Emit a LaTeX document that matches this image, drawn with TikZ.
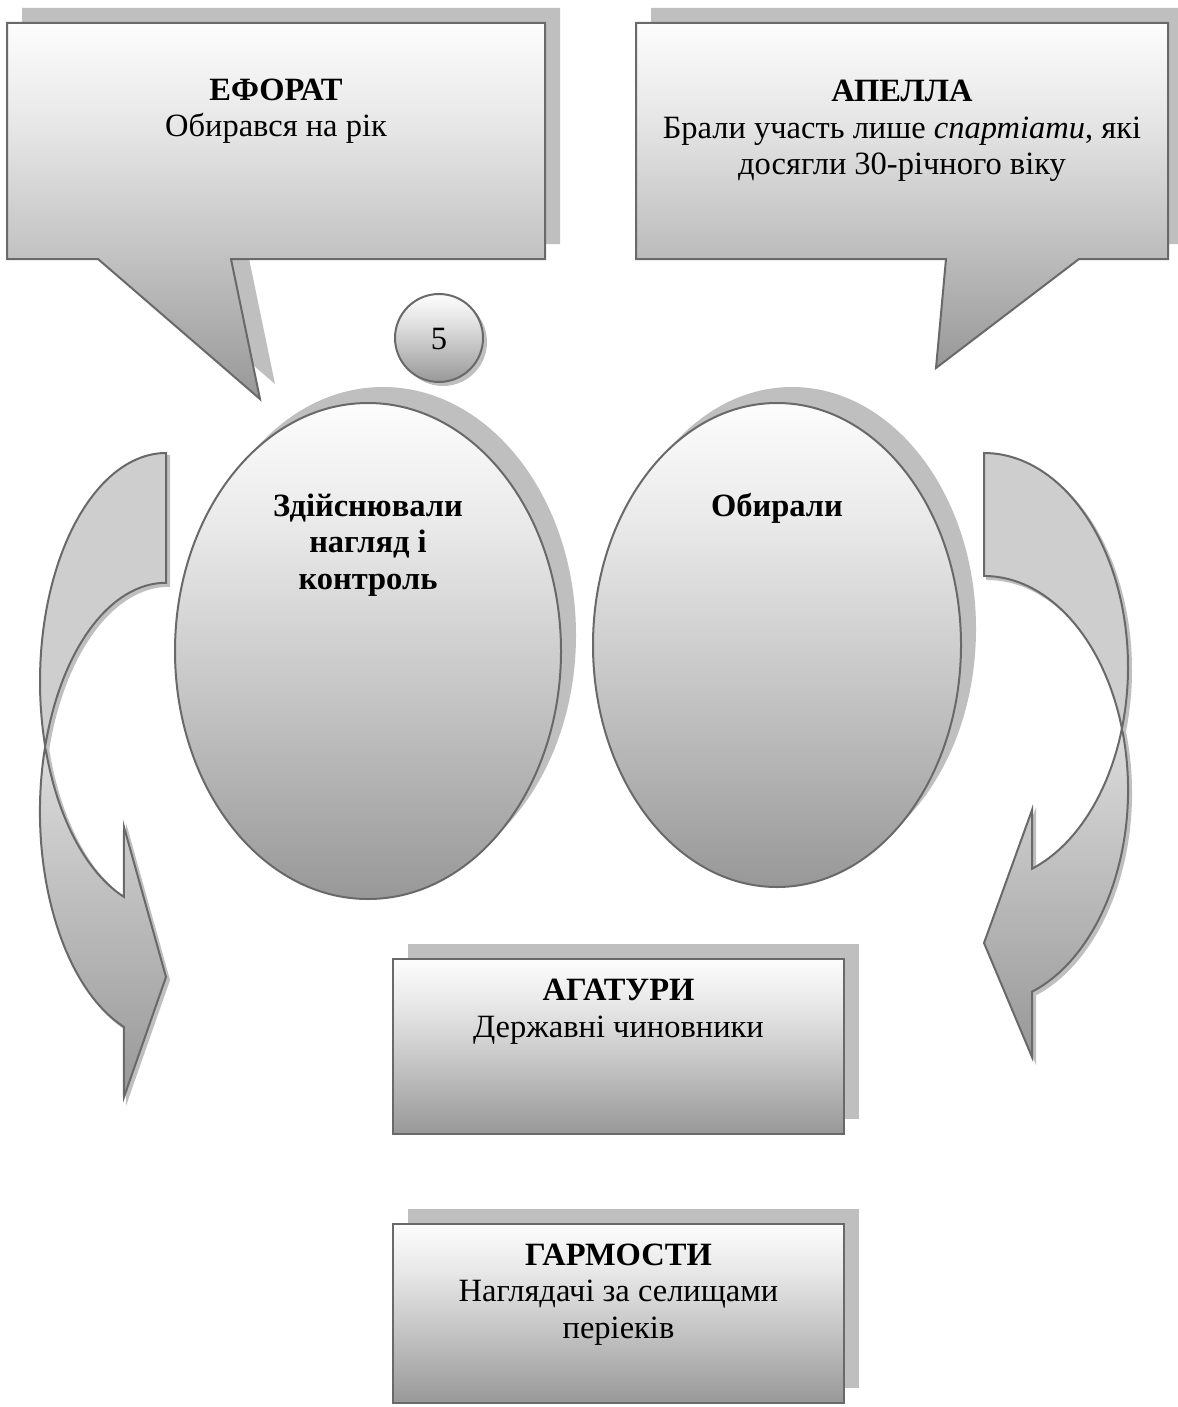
\documentclass[tikz,border=0pt]{standalone}
\usepackage{fontspec}
\setmainfont{Liberation Serif}
\usetikzlibrary{shapes.geometric}
\definecolor{edgec}{RGB}{105,105,105}
\definecolor{shadc}{RGB}{191,191,191}
\definecolor{backc}{RGB}{206,206,206}
\definecolor{gA}{RGB}{253,253,253}
\definecolor{gB}{RGB}{232,232,232}
\definecolor{gC}{RGB}{196,196,196}
\definecolor{gD}{RGB}{152,152,152}
\definecolor{fTop}{RGB}{220,220,220}
\definecolor{fBot}{RGB}{152,152,152}
\pgfdeclareverticalshading{wordgrad}{100bp}{color(0bp)=(gD); color(25bp)=(gD); color(45bp)=(gC); color(62bp)=(gB); color(75bp)=(gA); color(100bp)=(gA)}
\tikzset{
  gradshape/.style={shade, shading=wordgrad, draw=edgec, line width=2pt, line join=miter},
  shadowshape/.style={fill=shadc, draw=none},
  backband/.style={fill=backc, draw=edgec, line width=2pt},
  frontband/.style={top color=fTop, bottom color=fBot, draw=edgec, line width=2pt},
  arrshadow/.style={fill=shadc, draw=shadc, line width=2pt},
  txt/.style={align=center, inner sep=0pt, anchor=base, font=\fontsize{32.5}{36.5}\selectfont},
  btxt/.style={txt, font=\fontsize{32.5}{36.5}\selectfont\bfseries},
  LAback/.style={insert path={(166,453) arc[start angle=270, end angle=163.5, x radius=126, y radius=228.5]
      arc[start angle=196.5, end angle=270, x radius=126, y radius=228.5] -- cycle}},
  LAfront/.style={insert path={(45.2,746.4) arc[start angle=163.5, end angle=109.5, x radius=126, y radius=228.5]
      -- (124,827) -- (166,977) -- (124,1097) -- (123.9,1026.9)
      arc[start angle=109.5, end angle=196.5, x radius=126, y radius=228.5] -- cycle}},
  RAback/.style={insert path={(984,453) arc[start angle=270, end angle=376.7, x radius=144, y radius=214]
      arc[start angle=343.3, end angle=270, x radius=144, y radius=214] -- cycle}},
  RAfront/.style={insert path={(1121.9,728.5) arc[start angle=376.7, end angle=430.5, x radius=144, y radius=214]
      -- (1032,810) -- (984,943) -- (1032,1057) -- (1032.1,991.7)
      arc[start angle=70.5, end angle=-16.7, x radius=144, y radius=214] -- cycle}},
  Lcall/.style={insert path={(7,23) -- (545,23) -- (545,259) -- (231,259) -- (260,399) -- (98,259) -- (7,259) -- cycle}},
  Rcall/.style={insert path={(636,23) -- (1168,23) -- (1168,259) -- (1079,259) -- (936,368) -- (946,259) -- (636,259) -- cycle}},
}
\begin{document}
\begin{tikzpicture}[x=1pt,y=-1pt]
\useasboundingbox[fill=white] (0,0) rectangle (1177,1407);

% callouts
\path[shadowshape, shift={(15,-15)}, Lcall];
\path[gradshape, Lcall];
\path[shadowshape, shift={(15,-15)}, Rcall];
\path[gradshape, Rcall];
\node[txt] (eforat) at (276,137) {\textbf{ЕФОРАТ}\\Обирався на рік};
\node[txt] (apella) at (902,175) {\textbf{АПЕЛЛА}\\Брали участь лише \textit{спартіати}, які\\досягли 30-річного віку};

% number circle
\fill[shadc] (443,342) circle[radius=44];
\node[circle, gradshape, minimum size=88pt, inner sep=0pt] (num) at (439,338) {};
\node[txt] (numtxt) at (439,349) {5};

% ellipses
\fill[shadc] (383,635) ellipse[x radius=193, y radius=248];
\node[ellipse, gradshape, minimum width=386pt, minimum height=496pt, inner sep=0pt] (elL) at (368,651) {};
\fill[shadc] (792,629) ellipse[x radius=184, y radius=242];
\node[ellipse, gradshape, minimum width=368pt, minimum height=484pt, inner sep=0pt] (elR) at (777,645) {};
\node[btxt] (elLtxt) at (368,589) {Здійснювали\\нагляд і\\контроль};
\node[btxt] (elRtxt) at (777,516) {Обирали};

% curved arrows
\path[arrshadow, shift={(3,3)}, LAback];
\path[arrshadow, shift={(3,3)}, LAfront];
\path[backband, LAback];
\path[frontband, LAfront];
\path[arrshadow, shift={(3,3)}, RAback];
\path[arrshadow, shift={(3,3)}, RAfront];
\path[backband, RAback];
\path[frontband, RAfront];

% bottom boxes
\fill[shadc] (408,944) rectangle (859,1119);
\node[rectangle, gradshape, minimum width=451pt, minimum height=175pt, inner sep=0pt] (agat) at (618.5,1046.5) {};
\node[txt] (agattxt) at (618.5,1037) {\textbf{АГАТУРИ}\\Державні чиновники};
\fill[shadc] (408,1209) rectangle (859,1388);
\node[rectangle, gradshape, minimum width=451pt, minimum height=179pt, inner sep=0pt] (garm) at (618.5,1313.5) {};
\node[txt] (garmtxt) at (618.5,1338) {\textbf{ГАРМОСТИ}\\Наглядачі за селищами\\періеків};
\end{tikzpicture}
\end{document}
